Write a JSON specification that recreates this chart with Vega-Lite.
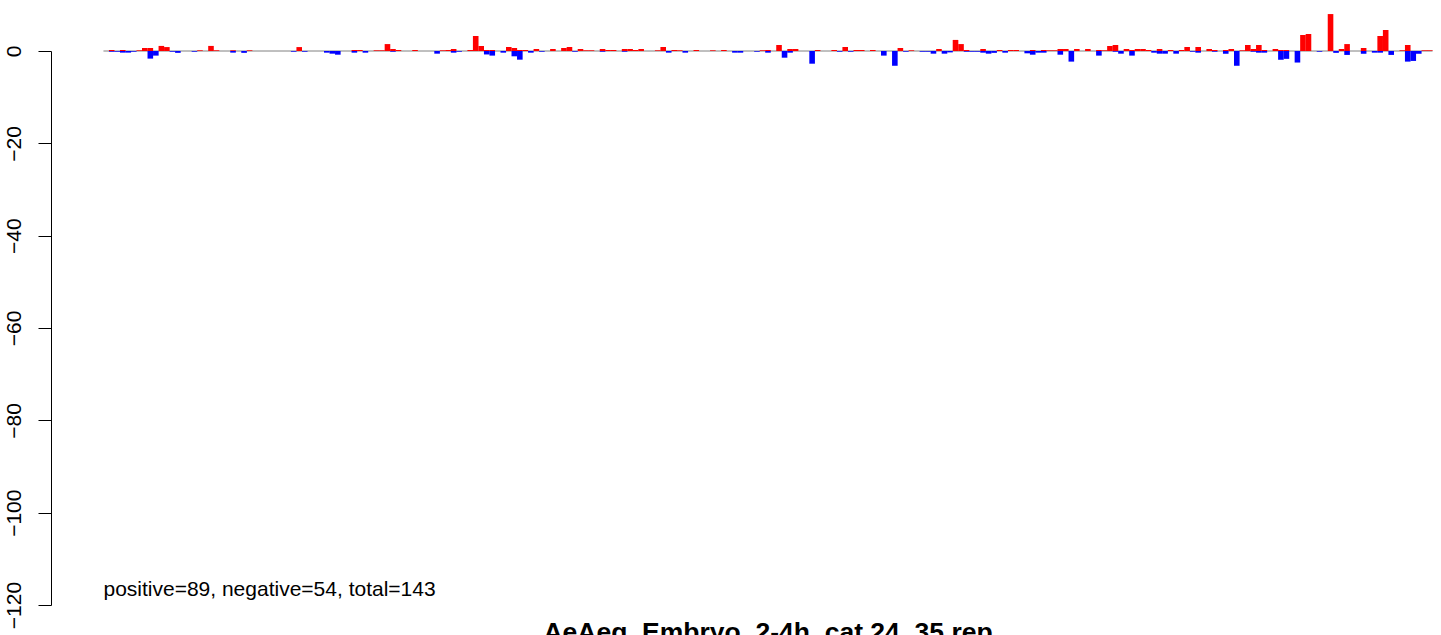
{
  "$schema": "https://vega.github.io/schema/vega-lite/v6.json",
  "width": 1390,
  "height": 554,
  "autosize": {"type": "none"},
  "padding": {"left": 51, "top": 51, "right": 0, "bottom": 30},
  "background": "white",
  "config": {"view": {"stroke": null}, "font": "Liberation Sans"},
  "data": {"values": [
    {"i":0,"p":0,"n":0},{"i":1,"p":0.22,"n":-0.15},{"i":2,"p":0,"n":-0.15},{"i":3,"p":0.22,"n":-0.35},{"i":4,"p":0,"n":-0.35},
    {"i":5,"p":0,"n":-0.15},{"i":6,"p":0.15,"n":0},{"i":7,"p":0.65,"n":0},{"i":8,"p":0.65,"n":-1.65},{"i":9,"p":0,"n":-1.0},
    {"i":10,"p":1.1,"n":0},{"i":11,"p":0.85,"n":0},{"i":12,"p":0,"n":-0.15},{"i":13,"p":0,"n":-0.4},{"i":14,"p":0,"n":0},
    {"i":15,"p":0,"n":0},{"i":16,"p":0,"n":-0.15},{"i":17,"p":0.15,"n":0},{"i":18,"p":0,"n":0},{"i":19,"p":1.1,"n":0},
    {"i":20,"p":0.15,"n":0},{"i":21,"p":0,"n":0},{"i":22,"p":0,"n":0},{"i":23,"p":0.15,"n":-0.35},{"i":24,"p":0,"n":0},
    {"i":25,"p":0,"n":-0.4},{"i":26,"p":0.15,"n":0},{"i":27,"p":0,"n":0},{"i":28,"p":0,"n":0},{"i":29,"p":0,"n":0},
    {"i":30,"p":0,"n":0},{"i":31,"p":0,"n":0},{"i":32,"p":0,"n":0},{"i":33,"p":0,"n":0},{"i":34,"p":0,"n":-0.15},
    {"i":35,"p":0.85,"n":0},{"i":36,"p":0,"n":-0.15},{"i":37,"p":0,"n":0},{"i":38,"p":0,"n":0},{"i":39,"p":0,"n":0},
    {"i":40,"p":0,"n":-0.36},{"i":41,"p":0,"n":-0.58},{"i":42,"p":0,"n":-0.8},{"i":43,"p":0,"n":0},{"i":44,"p":0,"n":0},
    {"i":45,"p":0.22,"n":-0.36},{"i":46,"p":0.22,"n":0},{"i":47,"p":0,"n":-0.36},{"i":48,"p":0,"n":0},{"i":49,"p":0.15,"n":0},
    {"i":50,"p":0.15,"n":0},{"i":51,"p":1.5,"n":0},{"i":52,"p":0.43,"n":-0.15},{"i":53,"p":0.22,"n":0},{"i":54,"p":0,"n":0},
    {"i":55,"p":0,"n":0},{"i":56,"p":0.22,"n":0},{"i":57,"p":0,"n":0},{"i":58,"p":0,"n":0},{"i":59,"p":0,"n":0},
    {"i":60,"p":0,"n":-0.58},{"i":61,"p":0.15,"n":0},{"i":62,"p":0.22,"n":0},{"i":63,"p":0.43,"n":-0.36},{"i":64,"p":0,"n":-0.15},
    {"i":65,"p":0,"n":0},{"i":66,"p":0.22,"n":0},{"i":67,"p":3.25,"n":0},{"i":68,"p":1.08,"n":0},{"i":69,"p":0.22,"n":-0.75},
    {"i":70,"p":0.22,"n":-1.0},{"i":71,"p":0,"n":0},{"i":72,"p":0,"n":-0.36},{"i":73,"p":0.87,"n":0},{"i":74,"p":0.65,"n":-1.15},
    {"i":75,"p":0.22,"n":-1.88},{"i":76,"p":0.22,"n":0},{"i":77,"p":0,"n":-0.36},{"i":78,"p":0.43,"n":0},{"i":79,"p":0,"n":-0.15},
    {"i":80,"p":0,"n":0},{"i":81,"p":0.43,"n":0},{"i":82,"p":0,"n":0},{"i":83,"p":0.65,"n":0},{"i":84,"p":0.87,"n":0},
    {"i":85,"p":0,"n":-0.15},{"i":86,"p":0.43,"n":0},{"i":87,"p":0.15,"n":0},{"i":88,"p":0.15,"n":0},{"i":89,"p":0,"n":0},
    {"i":90,"p":0.43,"n":-0.15},{"i":91,"p":0.22,"n":0},{"i":92,"p":0.22,"n":0},{"i":93,"p":0,"n":0},{"i":94,"p":0.43,"n":-0.15},
    {"i":95,"p":0.43,"n":0},{"i":96,"p":0.22,"n":0},{"i":97,"p":0.43,"n":0},{"i":98,"p":0,"n":0},{"i":99,"p":0,"n":0},
    {"i":100,"p":0.15,"n":0},{"i":101,"p":0.87,"n":0},{"i":102,"p":0,"n":-0.36},{"i":103,"p":0.22,"n":0},{"i":104,"p":0.15,"n":0},
    {"i":105,"p":0,"n":-0.36},{"i":106,"p":0,"n":0},{"i":107,"p":0.22,"n":0},{"i":108,"p":0,"n":0},{"i":109,"p":0,"n":0},
    {"i":110,"p":0.15,"n":0},{"i":111,"p":0,"n":0},{"i":112,"p":0.22,"n":0},{"i":113,"p":0,"n":0},{"i":114,"p":0,"n":-0.36},
    {"i":115,"p":0,"n":-0.36},{"i":116,"p":0,"n":0},{"i":117,"p":0,"n":0},{"i":118,"p":0,"n":-0.15},{"i":119,"p":0.15,"n":0},
    {"i":120,"p":0.22,"n":-0.36},{"i":121,"p":0,"n":0},{"i":122,"p":1.3,"n":0},{"i":123,"p":0,"n":-1.45},{"i":124,"p":0.43,"n":-0.36},
    {"i":125,"p":0.43,"n":0},{"i":126,"p":0,"n":0},{"i":127,"p":0,"n":0},{"i":128,"p":0,"n":-2.75},{"i":129,"p":0.22,"n":0},
    {"i":130,"p":0,"n":0},{"i":131,"p":0,"n":0},{"i":132,"p":0.22,"n":0},{"i":133,"p":0,"n":-0.15},{"i":134,"p":0.87,"n":0},
    {"i":135,"p":0,"n":-0.15},{"i":136,"p":0.22,"n":0},{"i":137,"p":0.22,"n":0},{"i":138,"p":0,"n":0},{"i":139,"p":0.22,"n":0},
    {"i":140,"p":0,"n":0},{"i":141,"p":0,"n":-1.0},{"i":142,"p":0,"n":0},{"i":143,"p":0,"n":-3.2},{"i":144,"p":0.65,"n":0},
    {"i":145,"p":0,"n":-0.15},{"i":146,"p":0.15,"n":0},{"i":147,"p":0,"n":0},{"i":148,"p":0,"n":-0.15},{"i":149,"p":0,"n":-0.15},
    {"i":150,"p":0,"n":-0.58},{"i":151,"p":0.43,"n":0},{"i":152,"p":0,"n":-0.58},{"i":153,"p":0,"n":-0.3},{"i":154,"p":2.4,"n":0},
    {"i":155,"p":1.5,"n":0},{"i":156,"p":0.22,"n":-0.15},{"i":157,"p":0,"n":-0.15},{"i":158,"p":0,"n":-0.15},{"i":159,"p":0.43,"n":-0.36},
    {"i":160,"p":0,"n":-0.58},{"i":161,"p":0,"n":-0.4},{"i":162,"p":0.22,"n":0},{"i":163,"p":0,"n":-0.36},{"i":164,"p":0.22,"n":0},
    {"i":165,"p":0.22,"n":0},{"i":166,"p":0,"n":0},{"i":167,"p":0,"n":-0.5},{"i":168,"p":0.22,"n":-0.8},{"i":169,"p":0,"n":-0.36},
    {"i":170,"p":0.22,"n":-0.36},{"i":171,"p":0.15,"n":0},{"i":172,"p":0.15,"n":0},{"i":173,"p":0.43,"n":-0.8},{"i":174,"p":0.43,"n":0},
    {"i":175,"p":0,"n":-2.3},{"i":176,"p":0.43,"n":0},{"i":177,"p":0,"n":0},{"i":178,"p":0.43,"n":0},{"i":179,"p":0,"n":0},
    {"i":180,"p":0.22,"n":-1.0},{"i":181,"p":0.15,"n":0},{"i":182,"p":1.08,"n":0},{"i":183,"p":1.3,"n":-0.15},{"i":184,"p":0,"n":-0.58},
    {"i":185,"p":0.43,"n":0},{"i":186,"p":0.22,"n":-1.0},{"i":187,"p":0.43,"n":0},{"i":188,"p":0.43,"n":0},{"i":189,"p":0.22,"n":0},
    {"i":190,"p":0,"n":-0.36},{"i":191,"p":0.43,"n":-0.58},{"i":192,"p":0,"n":-0.58},{"i":193,"p":0.22,"n":0},{"i":194,"p":0,"n":-0.58},
    {"i":195,"p":0.22,"n":0},{"i":196,"p":0.87,"n":0},{"i":197,"p":0,"n":-0.15},{"i":198,"p":0.87,"n":-0.36},{"i":199,"p":0,"n":0},
    {"i":200,"p":0.43,"n":0},{"i":201,"p":0.22,"n":-0.15},{"i":202,"p":0,"n":0},{"i":203,"p":0.22,"n":-0.6},{"i":204,"p":0.43,"n":0},
    {"i":205,"p":0,"n":-3.2},{"i":206,"p":0.15,"n":0},{"i":207,"p":1.3,"n":0},{"i":208,"p":0.43,"n":-0.15},{"i":209,"p":1.3,"n":-0.36},
    {"i":210,"p":0.22,"n":-0.36},{"i":211,"p":0,"n":0},{"i":212,"p":0.43,"n":0},{"i":213,"p":0.22,"n":-1.9},{"i":214,"p":0.22,"n":-1.7},
    {"i":215,"p":0,"n":0},{"i":216,"p":0,"n":-2.5},{"i":217,"p":3.47,"n":0},{"i":218,"p":3.68,"n":0},{"i":219,"p":0,"n":0},
    {"i":220,"p":0,"n":-0.15},{"i":221,"p":0,"n":0},{"i":222,"p":8.0,"n":0},{"i":223,"p":0,"n":-0.4},{"i":224,"p":0.43,"n":0},
    {"i":225,"p":1.5,"n":-0.85},{"i":226,"p":0,"n":0},{"i":227,"p":0,"n":0},{"i":228,"p":0.65,"n":-0.6},{"i":229,"p":0,"n":0},
    {"i":230,"p":0,"n":-0.36},{"i":231,"p":3.25,"n":-0.36},{"i":232,"p":4.55,"n":0},{"i":233,"p":0,"n":-0.85},{"i":234,"p":0,"n":0},
    {"i":235,"p":0.15,"n":0},{"i":236,"p":1.3,"n":-2.3},{"i":237,"p":0,"n":-2.15},{"i":238,"p":0,"n":-0.6},{"i":239,"p":0.15,"n":0},
    {"i":240,"p":0.15,"n":0}
  ]},
  "encoding": {
    "x": {"type": "quantitative", "scale": {"domain": [-10.01, 242.03], "nice": false, "zero": false, "padding": 0}, "axis": null},
    "y": {"type": "quantitative", "scale": {"domain": [-120, 0], "nice": false, "zero": false},
      "axis": {"values": [0, -20, -40, -60, -80, -100, -120], "title": null, "grid": false,
        "domainColor": "#000000", "domainWidth": 1, "tickColor": "#000000", "tickWidth": 1, "tickSize": 13,
        "labelAngle": 270, "labelAlign": "center", "labelBaseline": "alphabetic", "labelPadding": 18,
        "labelFontSize": 21, "labelColor": "#000000", "labelFont": "Liberation Sans",
        "labelFlush": false, "labelOverlap": false, "labelBound": false}}
  },
  "layer": [
    {
      "data": {"values": [{}]},
      "mark": {"type": "rule", "color": "#808080", "strokeWidth": 1},
      "encoding": {
        "x": {"datum": -0.5, "type": "quantitative"},
        "x2": {"datum": 240.5},
        "y": {"datum": 0, "type": "quantitative"}
      }
    },
    {
      "mark": {"type": "bar", "color": "#0000ff", "size": 5.6, "orient": "vertical"},
      "encoding": {
        "x": {"field": "i", "type": "quantitative"},
        "y": {"field": "n", "type": "quantitative"},
        "y2": {"datum": 0}
      }
    },
    {
      "mark": {"type": "bar", "color": "#ff0000", "size": 5.6, "orient": "vertical"},
      "encoding": {
        "x": {"field": "i", "type": "quantitative"},
        "y": {"field": "p", "type": "quantitative"},
        "y2": {"datum": 0}
      }
    },
    {
      "data": {"values": [{}]},
      "mark": {"type": "text", "align": "left", "baseline": "alphabetic", "fontSize": 21, "font": "Liberation Sans", "color": "#000000"},
      "encoding": {
        "x": {"datum": -0.5, "type": "quantitative"},
        "y": {"datum": -118, "type": "quantitative"},
        "text": {"value": "positive=89, negative=54, total=143"}
      }
    },
    {
      "data": {"values": [{}]},
      "mark": {"type": "text", "align": "center", "baseline": "alphabetic", "fontSize": 26.5, "fontWeight": "bold", "font": "Liberation Sans", "color": "#000000"},
      "encoding": {
        "x": {"datum": 120, "type": "quantitative"},
        "y": {"datum": -127.8, "type": "quantitative"},
        "text": {"value": "AeAeg_Embryo_2-4h_cat 24_35 rep"}
      }
    }
  ]
}
